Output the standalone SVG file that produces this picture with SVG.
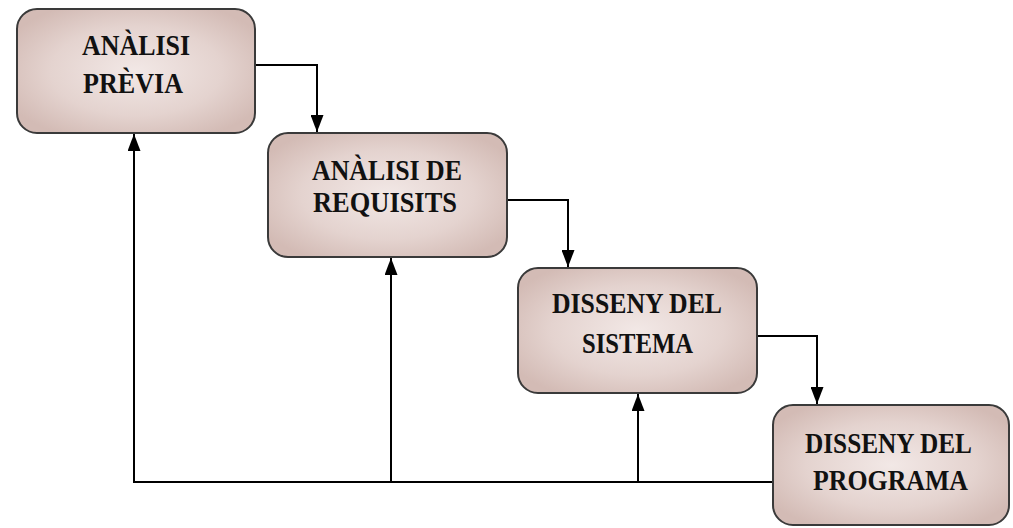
<svg xmlns="http://www.w3.org/2000/svg" width="1013" height="528" viewBox="0 0 1013 528">
<defs>
<radialGradient id="g" cx="50%" cy="50%" r="60%">
<stop offset="0" stop-color="#f2e8e6"/>
<stop offset="0.6" stop-color="#e4d3cf"/>
<stop offset="1" stop-color="#d3bbb5"/>
</radialGradient>
<marker id="ah" viewBox="0 0 17 13" refX="17" refY="6.5" markerWidth="17" markerHeight="13" markerUnits="userSpaceOnUse" orient="auto">
<path d="M0,0 L17,6.5 L0,13 z" fill="#000"/>
</marker>
</defs>
<style>
.box{fill:url(#g);stroke:#3a3a3a;stroke-width:2}
.t{font-family:"Liberation Serif","Times New Roman",serif;font-weight:bold;font-size:29px;fill:#111}
.c{fill:none;stroke:#000;stroke-width:2}
</style>
<rect width="1013" height="528" fill="#fff"/>
<g id="connectors">
<path class="c" d="M255,65 H317 V132" marker-end="url(#ah)"/>
<path class="c" d="M507,200 H568 V267" marker-end="url(#ah)"/>
<path class="c" d="M757,336 H817 V404" marker-end="url(#ah)"/>
<path class="c" d="M773,482 H134 V134" marker-end="url(#ah)"/>
<path class="c" d="M391,482 V258" marker-end="url(#ah)"/>
<path class="c" d="M638,482 V394" marker-end="url(#ah)"/>
</g>
<g id="n1">
<rect class="box" x="17" y="9" width="238" height="124" rx="20"/>
<text class="t" x="82" y="55" textLength="108" lengthAdjust="spacingAndGlyphs">ANÀLISI</text>
<text class="t" x="83" y="93" textLength="100" lengthAdjust="spacingAndGlyphs">PRÈVIA</text>
</g>
<g id="n2">
<rect class="box" x="268" y="133" width="239" height="124" rx="20"/>
<text class="t" x="312" y="180" textLength="150" lengthAdjust="spacingAndGlyphs">ANÀLISI DE</text>
<text class="t" x="313" y="212" textLength="144" lengthAdjust="spacingAndGlyphs">REQUISITS</text>
</g>
<g id="n3">
<rect class="box" x="518" y="268" width="239" height="125" rx="20"/>
<text class="t" x="552" y="313" textLength="170" lengthAdjust="spacingAndGlyphs">DISSENY DEL</text>
<text class="t" x="582" y="353" textLength="111" lengthAdjust="spacingAndGlyphs">SISTEMA</text>
</g>
<g id="n4">
<rect class="box" x="773" y="405" width="236" height="120" rx="20"/>
<text class="t" x="805" y="453" textLength="167" lengthAdjust="spacingAndGlyphs">DISSENY DEL</text>
<text class="t" x="813" y="490" textLength="155" lengthAdjust="spacingAndGlyphs">PROGRAMA</text>
</g>
</svg>
